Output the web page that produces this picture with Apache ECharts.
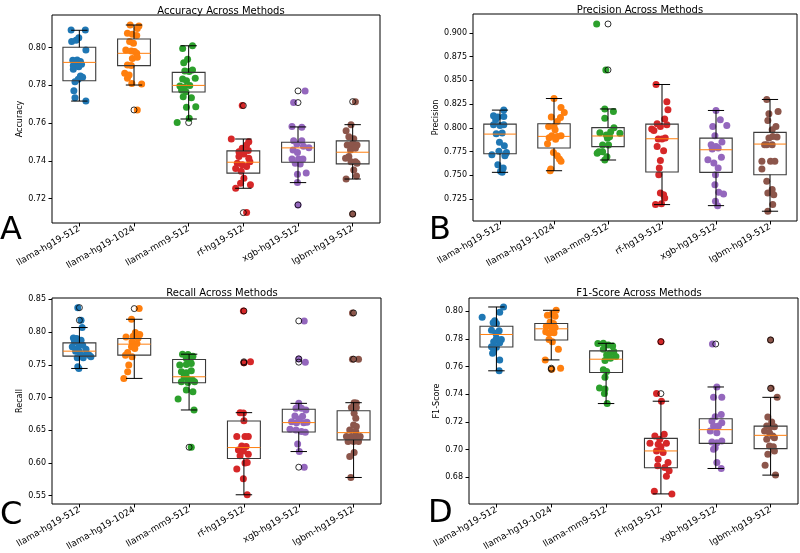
<!DOCTYPE html>
<html>
<head>
<meta charset="utf-8">
<script src="https://cdn.jsdelivr.net/npm/echarts@6/dist/echarts.min.js"></script>
<style>html,body{margin:0;padding:0;background:#fff}#c{width:800px;height:553px}</style>
</head>
<body>
<div id="c"></div>
<script>
const methods = ['llama-hg19-512','llama-hg19-1024','llama-mm9-512','rf-hg19-512','xgb-hg19-512','lgbm-hg19-512'];
const colors = ['#1f77b4','#ff7f0e','#2ca02c','#d62728','#9467bd','#8c564b'];

// ---------- Accuracy ----------
const accVals = [
  [0.8094,0.8094,0.8032,0.8039,0.8053,0.7988,0.7935,0.7933,0.7926,0.7906,0.7915,0.7912,0.7885,0.7850,0.7832,0.7820,0.7772,0.7735,0.7717,0.7899,0.7843],
  [0.8120,0.8115,0.8076,0.8071,0.8102,0.8064,0.8032,0.8023,0.7988,0.7982,0.7979,0.7970,0.7943,0.7949,0.7908,0.7905,0.7864,0.7855,0.7838,0.7810,0.7808,0.7670],
  [0.7996,0.8010,0.7920,0.7938,0.7876,0.7873,0.7882,0.7834,0.7825,0.7838,0.7797,0.7790,0.7800,0.7776,0.7767,0.7740,0.7735,0.7684,0.7687,0.7626,0.7603],
  [0.7693,0.7516,0.7502,0.7484,0.7467,0.7449,0.7437,0.7414,0.7423,0.7388,0.7379,0.7370,0.7360,0.7308,0.7282,0.7273,0.7255,0.7126,0.7455,0.7395,0.7345],
  [0.7771,0.7709,0.7582,0.7578,0.7507,0.7507,0.7490,0.7470,0.7458,0.7444,0.7410,0.7410,0.7410,0.7388,0.7384,0.7329,0.7336,0.7285,0.7167,0.7478],
  [0.7714,0.7592,0.7560,0.7528,0.7518,0.7484,0.7490,0.7484,0.7458,0.7467,0.7423,0.7414,0.7396,0.7396,0.7388,0.7352,0.7320,0.7304,0.7119]
];
const accJit = [
  [-0.15,0.11,-0.14,-0.06,-0.01,0.12,-0.04,-0.12,0.02,-0.11,-0.06,0.04,-0.11,0.02,-0.02,-0.08,-0.10,-0.08,0.12,-0.01,0.06],
  [-0.07,0.09,-0.12,-0.03,0.06,0.05,-0.08,-0.01,-0.15,-0.05,0.01,0.05,-0.03,0.06,-0.12,-0.05,-0.17,-0.09,-0.12,-0.04,0.14,0.06],
  [-0.11,0.07,-0.09,-0.02,-0.07,0.01,0.07,-0.11,-0.04,0.12,-0.16,-0.08,0.02,-0.13,-0.05,-0.10,0.05,-0.04,0.13,0.01,-0.21],
  [-0.02,-0.22,0.10,0.06,-0.02,-0.08,0.01,0.10,-0.08,-0.11,-0.02,0.06,-0.14,0.01,-0.05,0.13,-0.14,0.06,0.09,0.12,-0.04],
  [0.13,-0.08,-0.11,0.07,-0.08,0.07,-0.02,0.20,-0.09,-0.01,-0.11,0.01,0.09,-0.05,0.04,-0.01,0.15,-0.01,0.00,0.10],
  [0.05,-0.03,-0.12,-0.07,0.02,-0.10,-0.01,0.08,-0.04,0.05,-0.07,-0.13,-0.03,0.05,0.08,0.02,0.07,-0.12,0.00]
];
const accBox = [
  [0.7717,0.7825,0.7922,0.8002,0.8092],
  [0.7802,0.7905,0.7970,0.8046,0.8120],
  [0.7622,0.7765,0.7800,0.7869,0.8010],
  [0.7255,0.7335,0.7393,0.7453,0.7516],
  [0.7285,0.7393,0.7469,0.7499,0.7580],
  [0.7304,0.7384,0.7446,0.7506,0.7592]
];
const accOut = [[],[0.7670],[0.7603],[0.7693,0.7126],[0.7771,0.7709,0.7167],[0.7714,0.7119]];
const accTicks = [0.72,0.74,0.76,0.78,0.80];

// ---------- Precision ----------
const precVals = [
  [0.8187,0.8127,0.8113,0.8120,0.8032,0.8032,0.7938,0.7945,0.7847,0.7811,0.7741,0.7717,0.7752,0.7724,0.7612,0.7577,0.7542,0.7531,0.8085,0.8025,0.7705],
  [0.8309,0.8215,0.8113,0.8109,0.8162,0.8015,0.8015,0.8067,0.7917,0.7910,0.7917,0.7980,0.7833,0.7741,0.7706,0.7671,0.7647,0.7566,0.7548,0.7895,0.7880],
  [0.9095,0.8611,0.8199,0.8171,0.8100,0.7949,0.7925,0.7960,0.8002,0.7942,0.7907,0.7890,0.7819,0.7819,0.7749,0.7749,0.7731,0.7696,0.7661],
  [0.8457,0.8274,0.8190,0.8092,0.8043,0.8015,0.8032,0.7987,0.7973,0.7882,0.7882,0.7892,0.7804,0.7759,0.7657,0.7577,0.7506,0.7314,0.7296,0.7261,0.7191,0.7201],
  [0.8183,0.8085,0.8025,0.8015,0.7917,0.7850,0.7822,0.7804,0.7776,0.7787,0.7689,0.7664,0.7629,0.7577,0.7506,0.7401,0.7321,0.7303,0.7226,0.7180],
  [0.8299,0.8173,0.8148,0.8078,0.8015,0.7980,0.7910,0.7903,0.7892,0.7822,0.7822,0.7822,0.7647,0.7647,0.7647,0.7566,0.7436,0.7349,0.7314,0.7296,0.7191,0.7121]
];
const precJit = [
  [0.07,-0.12,-0.04,0.07,-0.12,0.07,-0.07,0.04,-0.01,0.08,0.12,-0.15,-0.02,0.10,-0.04,0.06,0.01,0.04,-0.08,0.00,0.09],
  [0.00,0.13,-0.05,0.12,0.19,-0.10,0.00,0.06,-0.04,0.06,0.13,0.02,-0.12,-0.01,0.06,0.10,0.13,-0.06,-0.07,-0.09,0.03],
  [-0.21,-0.04,-0.06,0.10,-0.06,-0.15,-0.03,0.05,0.11,0.22,0.03,-0.01,-0.10,0.01,-0.17,-0.10,-0.20,-0.02,-0.06],
  [-0.11,0.09,0.11,0.05,-0.09,-0.03,0.09,-0.19,-0.15,-0.07,0.00,0.06,-0.09,0.03,-0.03,-0.05,-0.06,-0.03,0.03,0.05,-0.12,-0.01],
  [0.00,0.08,0.20,-0.06,-0.02,0.11,-0.09,0.00,-0.07,0.04,0.10,-0.15,-0.04,0.04,-0.01,-0.02,0.05,0.14,-0.01,0.03],
  [-0.06,0.15,-0.02,-0.04,0.11,0.04,0.05,0.13,-0.02,-0.06,-0.10,0.04,-0.15,0.01,0.09,-0.15,-0.06,0.04,-0.04,0.07,0.05,-0.04]
];
const precBox = [
  [0.7531,0.7727,0.7934,0.8039,0.8187],
  [0.7548,0.7787,0.7910,0.8043,0.8309],
  [0.7661,0.7802,0.7914,0.8002,0.8199],
  [0.7191,0.7534,0.7885,0.8039,0.8457],
  [0.7180,0.7531,0.7769,0.7892,0.8183],
  [0.7121,0.7506,0.7829,0.7952,0.8299]
];
const precOut = [[],[],[0.9095,0.8611],[],[],[]];
const precTicks = [0.725,0.750,0.775,0.800,0.825,0.850,0.875,0.900];

// ---------- Recall ----------
const recVals = [
  [0.8373,0.8180,0.8069,0.7911,0.7901,0.7876,0.7850,0.7825,0.7800,0.7774,0.7749,0.7739,0.7708,0.7698,0.7673,0.7647,0.7647,0.7622,0.7607,0.7607,0.7470,0.7444],
  [0.8358,0.8195,0.7992,0.7926,0.7937,0.7911,0.7962,0.7850,0.7825,0.7774,0.7749,0.7688,0.7647,0.7622,0.7495,0.7393,0.7292],
  [0.6241,0.7662,0.7657,0.7632,0.7596,0.7581,0.7495,0.7505,0.7520,0.7393,0.7378,0.7409,0.7317,0.7292,0.7267,0.7241,0.7231,0.7241,0.7114,0.7089,0.6977,0.6810],
  [0.8322,0.7530,0.7546,0.6769,0.6765,0.6647,0.6403,0.6403,0.6403,0.6261,0.6254,0.6200,0.6185,0.6134,0.6112,0.6001,0.6007,0.5907,0.5758,0.5515],
  [0.8170,0.7590,0.7540,0.6911,0.6835,0.6835,0.6809,0.6718,0.6713,0.6673,0.6632,0.6616,0.6616,0.6621,0.6515,0.6505,0.6480,0.6469,0.6292,0.6175,0.5936],
  [0.8292,0.7586,0.7586,0.6921,0.6915,0.6846,0.6846,0.6759,0.6683,0.6581,0.6556,0.6505,0.6480,0.6403,0.6403,0.6403,0.6403,0.6327,0.6327,0.6327,0.6160,0.6099,0.5779]
];
const recJit = [
  [-0.03,0.03,0.05,-0.11,-0.05,0.03,-0.09,-0.01,0.06,-0.13,-0.03,0.12,-0.07,0.00,0.13,0.03,0.18,0.21,-0.04,0.07,-0.03,-0.01],
  [0.09,-0.05,0.02,-0.15,-0.02,0.07,0.10,-0.04,0.05,-0.05,0.01,-0.12,-0.16,-0.04,-0.10,-0.12,-0.19],
  [0.04,-0.12,-0.02,0.07,-0.05,0.02,-0.17,-0.05,0.04,-0.14,-0.05,0.04,-0.09,-0.03,0.06,-0.14,-0.02,0.10,-0.05,0.07,-0.20,0.09],
  [-0.01,0.00,0.12,-0.07,-0.01,0.00,-0.13,0.02,0.08,-0.04,0.04,-0.10,-0.01,0.08,-0.07,0.02,0.06,-0.13,-0.01,0.06],
  [0.10,0.00,0.12,0.00,-0.05,0.05,0.13,-0.07,0.07,0.01,-0.13,-0.04,0.09,0.15,-0.16,-0.05,0.05,0.12,-0.02,0.01,0.10],
  [-0.02,-0.02,0.09,0.01,0.05,-0.04,0.05,0.01,0.04,0.00,0.05,-0.07,0.04,-0.13,-0.04,0.05,0.12,-0.10,0.00,0.09,0.01,-0.07,-0.05]
];
const recBox = [
  [0.7444,0.7632,0.7708,0.7835,0.8069],
  [0.7292,0.7647,0.7815,0.7901,0.8195],
  [0.6810,0.7226,0.7317,0.7581,0.7662],
  [0.5515,0.6068,0.6236,0.6642,0.6769],
  [0.6175,0.6474,0.6617,0.6820,0.6911],
  [0.5779,0.6353,0.6464,0.6799,0.6921]
];
const recOut = [[0.8373,0.8180],[0.8358],[0.6241],[0.8322,0.7530,0.7546],[0.8170,0.7590,0.7540,0.5936],[0.8292,0.7586]];
const recTicks = [0.55,0.60,0.65,0.70,0.75,0.80,0.85];

// ---------- F1-Score ----------
const f1Vals = [
  [0.8031,0.7957,0.7993,0.7931,0.7916,0.7911,0.7863,0.7859,0.7840,0.7804,0.7796,0.7780,0.7772,0.7744,0.7739,0.7708,0.7696,0.7648,0.7569],
  [0.8007,0.7971,0.7978,0.7964,0.7923,0.7911,0.7892,0.7883,0.7883,0.7851,0.7840,0.7844,0.7796,0.7780,0.7725,0.7648,0.7588,0.7580],
  [0.7766,0.7768,0.7756,0.7749,0.7725,0.7708,0.7696,0.7684,0.7672,0.7660,0.7643,0.7576,0.7564,0.7523,0.7444,0.7437,0.7404,0.7332],
  [0.7780,0.7404,0.7349,0.7097,0.7109,0.7073,0.7044,0.7037,0.7044,0.7020,0.6989,0.6977,0.6929,0.6905,0.6882,0.6870,0.6846,0.6805,0.6697,0.6678],
  [0.7763,0.7452,0.7377,0.7377,0.7253,0.7236,0.7205,0.7193,0.7169,0.7169,0.7133,0.7121,0.7054,0.7049,0.7061,0.7013,0.7001,0.6905,0.6862],
  [0.7792,0.7442,0.7377,0.7234,0.7198,0.7169,0.7164,0.7164,0.7133,0.7121,0.7097,0.7073,0.7085,0.7025,0.7020,0.6965,0.6989,0.6886,0.6814]
];
const f1Jit = [
  [0.13,-0.26,0.06,-0.03,-0.06,0.00,-0.09,0.05,-0.01,0.00,0.09,-0.05,0.06,-0.09,0.00,-0.05,-0.07,0.06,0.05],
  [0.09,-0.07,0.01,0.07,-0.02,0.04,-0.09,0.01,0.07,-0.10,-0.04,0.05,-0.04,0.02,0.13,-0.11,0.17,0.01],
  [-0.15,-0.05,0.04,0.12,-0.05,0.14,0.07,0.01,0.18,0.08,-0.02,-0.05,0.01,-0.02,-0.12,-0.02,-0.03,0.02],
  [0.00,-0.08,0.01,-0.11,0.06,-0.02,-0.20,-0.05,0.10,0.00,-0.08,0.04,-0.05,0.13,-0.06,0.07,0.15,0.10,-0.12,0.20],
  [-0.06,0.02,-0.04,0.11,0.10,-0.01,-0.07,0.11,-0.04,0.05,-0.10,0.02,-0.07,0.02,0.11,-0.01,-0.04,0.02,0.10],
  [0.00,0.01,0.12,-0.05,0.02,-0.07,-0.01,0.07,-0.11,-0.02,0.04,-0.07,0.07,-0.02,0.05,-0.05,0.07,-0.10,0.09]
];
const f1Box = [
  [0.7569,0.7741,0.7832,0.7892,0.8031],
  [0.7648,0.7792,0.7873,0.7911,0.8007],
  [0.7332,0.7557,0.7653,0.7713,0.7768],
  [0.6678,0.6867,0.6989,0.7080,0.7349],
  [0.6862,0.7044,0.7143,0.7222,0.7452],
  [0.6814,0.7006,0.7102,0.7169,0.7377]
];
const f1Out = [[],[0.7588,0.7580],[],[0.7780,0.7404],[0.7763],[0.7792,0.7442]];
const f1Ticks = [0.68,0.70,0.72,0.74,0.76,0.78,0.80];

// ---------- layout ----------
const panels = [
  {title:'Accuracy Across Methods', name:'Accuracy', vals:accVals, jit:accJit, box:accBox, out:accOut, ticks:accTicks, dec:2,
   grid:{left:52,top:15,width:328,height:208}, ymin:0.7071, ymax:0.8173, gap:27, tx:216, ty:1, letter:'A', lx:0, ly:232},
  {title:'Precision Across Methods', name:'Precision', vals:precVals, jit:precJit, box:precBox, out:precOut, ticks:precTicks, dec:3,
   grid:{left:473,top:14,width:324,height:207}, ymin:0.7018, ymax:0.920, gap:33, tx:635, ty:0, letter:'B', lx:429, ly:232},
  {title:'Recall Across Methods', name:'Recall', vals:recVals, jit:recJit, box:recBox, out:recOut, ticks:recTicks, dec:2,
   grid:{left:52,top:298,width:329,height:206}, ymin:0.5374, ymax:0.852, gap:26, tx:217, ty:283, letter:'C', lx:0, ly:517},
  {title:'F1-Score Across Methods', name:'F1-Score', vals:f1Vals, jit:f1Jit, box:f1Box, out:f1Out, ticks:f1Ticks, dec:2,
   grid:{left:469,top:298,width:329,height:206}, ymin:0.6605, ymax:0.8096, gap:26, tx:634, ty:283, letter:'D', lx:428, ly:515}
];

const FONT = 'DejaVu Sans';
const grids = [], xAxes = [], yAxes = [], series = [], titles = [], graphics = [];

function renderBox(params, api) {
  const i = api.value(0);
  const lo = api.coord([i, api.value(1)]);
  const q1 = api.coord([i, api.value(2)]);
  const md = api.coord([i, api.value(3)]);
  const q3 = api.coord([i, api.value(4)]);
  const hi = api.coord([i, api.value(5)]);
  const hw = api.size([0.3, 0])[0];
  const cw = api.size([0.15, 0])[0];
  const x = lo[0];
  const blk = {stroke:'#000', lineWidth:1, fill:null};
  return {type:'group', children:[
    {type:'rect', shape:{x:x-hw, y:q3[1], width:2*hw, height:q1[1]-q3[1]}, style:{stroke:'#3a3a3a', lineWidth:1.1, fill:null}},
    {type:'line', shape:{x1:x, y1:q3[1], x2:x, y2:hi[1]}, style:blk},
    {type:'line', shape:{x1:x, y1:q1[1], x2:x, y2:lo[1]}, style:blk},
    {type:'line', shape:{x1:x-cw, y1:hi[1], x2:x+cw, y2:hi[1]}, style:blk},
    {type:'line', shape:{x1:x-cw, y1:lo[1], x2:x+cw, y2:lo[1]}, style:blk},
    {type:'line', shape:{x1:x-hw, y1:md[1], x2:x+hw, y2:md[1]}, style:{stroke:'#ff7f0e', lineWidth:1}}
  ]};
}

panels.forEach((p, g) => {
  grids.push(Object.assign({show:true, borderColor:'#000', borderWidth:1, backgroundColor:'transparent'}, p.grid));
  xAxes.push({type:'category', gridIndex:g, data:methods, boundaryGap:true,
    axisLine:{show:false, onZero:false}, axisTick:{show:true, alignWithLabel:true, length:3.5, lineStyle:{color:'#000'}},
    axisLabel:{rotate:30, fontSize:9, color:'#000', fontFamily:FONT, margin:5, interval:0},
    splitLine:{show:false}});
  xAxes.push({type:'value', gridIndex:g, min:-0.5, max:5.5, show:false, axisLine:{onZero:false}});
  yAxes.push({type:'value', gridIndex:g, min:p.ymin, max:p.ymax, position:'left',
    name:p.name, nameLocation:'middle', nameGap:p.gap, nameRotate:90,
    nameTextStyle:{fontSize:8, color:'#000', fontFamily:FONT},
    axisLine:{show:false, onZero:false}, splitLine:{show:false},
    axisTick:{show:true, length:3.5, lineStyle:{color:'#000'}, customValues:p.ticks},
    axisLabel:{fontSize:8, color:'#000', fontFamily:FONT, margin:6, customValues:p.ticks,
      formatter:(v)=>Number(v).toFixed(p.dec)}});
  titles.push({text:p.title, left:p.tx, top:p.ty, textAlign:'center',
    textStyle:{fontSize:10, fontWeight:'normal', color:'#000', fontFamily:FONT}});
  graphics.push({type:'text', left:p.lx, top:p.ly-17, style:{text:p.letter, fontSize:32, fill:'#000', fontFamily:FONT}});

  p.vals.forEach((arr, i) => {
    series.push({type:'scatter', xAxisIndex:2*g+1, yAxisIndex:g, symbolSize:7, z:2,
      itemStyle:{color:colors[i], opacity:1}, silent:true,
      data:arr.map((v,k)=>[i + p.jit[i][k], v])});
  });
  series.push({type:'custom', xAxisIndex:2*g+1, yAxisIndex:g, z:3, silent:true,
    renderItem:renderBox, encode:{x:0, y:[1,2,3,4,5]},
    data:p.box.map((b,i)=>[i].concat(b))});
  const fl = [];
  p.out.forEach((arr,i)=>arr.forEach(v=>fl.push([i, v])));
  series.push({type:'scatter', xAxisIndex:2*g+1, yAxisIndex:g, z:4, silent:true, symbolSize:6,
    itemStyle:{color:'rgba(0,0,0,0)', borderColor:'#000', borderWidth:1}, data:fl});
});

const chart = echarts.init(document.getElementById('c'), null, {renderer:'canvas'});
chart.setOption({
  animation:false,
  backgroundColor:'#fff',
  title:titles,
  grid:grids,
  xAxis:xAxes,
  yAxis:yAxes,
  series:series,
  graphic:graphics
});
</script>
</body>
</html>
